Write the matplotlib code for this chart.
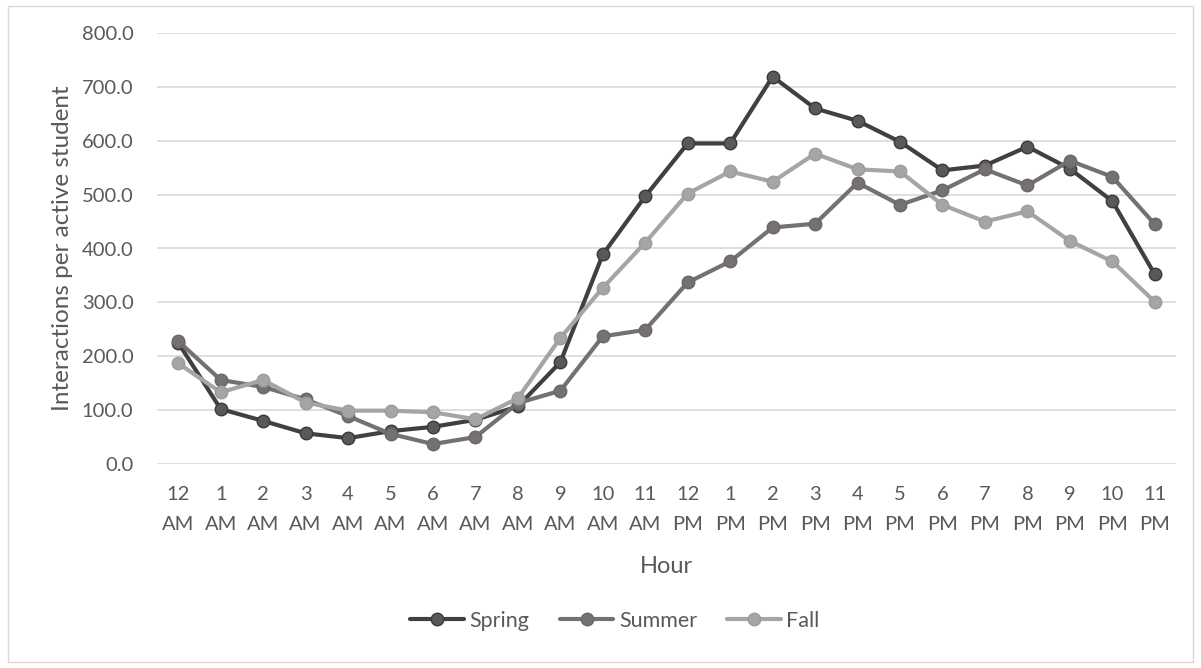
import matplotlib.pyplot as plt
from matplotlib.patches import Rectangle

plt.rcParams['font.family'] = ['Lato', 'DejaVu Sans']

# Hourly interaction counts per active student, by semester
hours = ['12\nAM', '1\nAM', '2\nAM', '3\nAM', '4\nAM', '5\nAM', '6\nAM', '7\nAM',
         '8\nAM', '9\nAM', '10\nAM', '11\nAM', '12\nPM', '1\nPM', '2\nPM', '3\nPM',
         '4\nPM', '5\nPM', '6\nPM', '7\nPM', '8\nPM', '9\nPM', '10\nPM', '11\nPM']
spring = [225, 102, 80, 57, 48, 61, 69, 82, 107, 189, 389, 497, 595, 595,
          719, 660, 637, 598, 545, 554, 589, 548, 488, 352]
summer = [228, 156, 143, 120, 89, 56, 37, 50, 113, 136, 237, 249, 337, 376,
          439, 446, 522, 481, 508, 547, 517, 563, 533, 445]
fall = [187, 133, 156, 114, 99, 99, 96, 83, 122, 234, 327, 411, 502, 543,
        524, 576, 547, 543, 481, 450, 469, 414, 376, 301]

series = [('Spring', spring, '#404040', '#595959', '#3a3a3a'),
          ('Summer', summer, '#767171', '#767171', '#6b6767'),
          ('Fall', fall, '#a5a5a5', '#a5a5a5', '#9c9c9c')]

text_color = '#595959'

fig = plt.figure(figsize=(12.01, 6.68), dpi=100)
ax = fig.add_axes([157 / 1201, 1 - 464 / 668, (1176 - 157) / 1201, (464 - 33) / 668])

x = list(range(len(hours)))
for name, vals, lc, fc, ec in series:
    ax.plot(x, vals, color=lc, lw=3.0, marker='o', markersize=9,
            markerfacecolor=fc, markeredgecolor=ec, markeredgewidth=1,
            label=name, solid_capstyle='round', zorder=3)

ax.set_xlim(-0.5, len(hours) - 0.5)
ax.set_ylim(0, 800)
ax.set_yticks(range(0, 801, 100))
ax.set_yticklabels([f'{v:.1f}' for v in range(0, 801, 100)])
ax.set_xticks(x)
ax.set_xticklabels(hours, linespacing=1.95)
ax.tick_params(length=0, labelsize=14.5, colors=text_color)
ax.tick_params(axis='y', pad=17)
ax.tick_params(axis='x', pad=15.5)
ax.grid(axis='y', color='#d9d9d9', lw=1.2)
ax.set_axisbelow(True)
for s in ax.spines.values():
    s.set_visible(False)

ax.set_ylabel('Interactions per active student', fontsize=17.5, color=text_color, labelpad=6)
ax.set_xlabel('Hour', fontsize=17, color=text_color, labelpad=17)

leg = fig.legend(loc='center', bbox_to_anchor=(615 / 1201, 1 - 621 / 668), ncol=3,
                 frameon=False, fontsize=15.5, handlelength=2.5, handletextpad=0.25,
                 columnspacing=1.4)
for t in leg.get_texts():
    t.set_color(text_color)

fig.patches.append(Rectangle((8 / 1201, 6 / 668), 1185 / 1201, 656 / 668,
                             transform=fig.transFigure, fill=False,
                             edgecolor='#d9d9d9', lw=1))

fig.savefig('out.png', dpi=100)
